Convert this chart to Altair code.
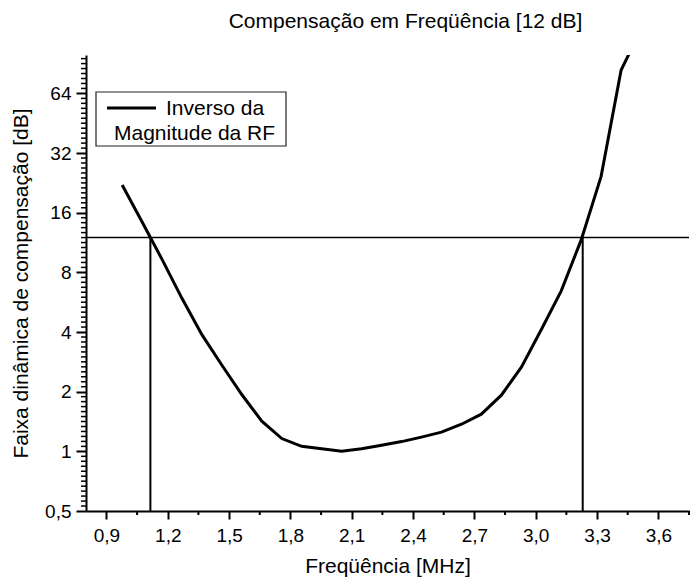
import altair as alt
import numpy as np
import pandas as pd

# Inverse of the RF magnitude response, sampled on FFT bins (MHz)
freq_mhz = [0.977, 1.074, 1.172, 1.270, 1.367, 1.465, 1.563, 1.660, 1.758,
            1.855, 1.953, 2.051, 2.148, 2.246, 2.344, 2.441, 2.539, 2.637,
            2.734, 2.832, 2.930, 3.027, 3.125, 3.223, 3.320, 3.418, 3.516]
compensation = [22.1, 14.4, 9.3, 5.9, 3.88, 2.72, 1.93, 1.42, 1.16,
                1.06, 1.03, 1.00, 1.03, 1.073, 1.12, 1.18, 1.25, 1.37,
                1.54, 1.92, 2.66, 4.11, 6.45, 11.7, 24.4, 84.0, 135.0]

# 12 dB compensation limit and the band edges where the curve meets it
threshold = 12
band_edges = [1.115, 3.23]

x_ticks = [0.9, 1.2, 1.5, 1.8, 2.1, 2.4, 2.7, 3.0, 3.3, 3.6]
x_minor = [1.05, 1.35, 1.65, 1.95, 2.25, 2.55, 2.85, 3.15, 3.45, 3.75]
y_ticks = [0.5, 1, 2, 4, 8, 16, 32, 64]

W, H = 603, 456
FONT = "Liberation Sans"

xs = alt.Scale(domain=[0.8, 3.75], nice=False, zero=False)
ys = alt.Scale(type="log", base=2, domain=[0.5, 100], nice=False)

x_axis = alt.Axis(
    title="Freqüência [MHz]", values=x_ticks,
    labelExpr="replace(format(datum.value, '.1f'), '.', ',')",
    tickSize=8, tickWidth=2, domainWidth=2, labelPadding=7,
    titlePadding=10, grid=False)
y_axis = alt.Axis(
    title="Faixa dinâmica de compensação [dB]", values=y_ticks,
    labelExpr="replace(format(datum.value, '~g'), '.', ',')",
    tickSize=10, tickWidth=2, domainWidth=2, labelPadding=5,
    titlePadding=13, grid=False)

# minor ticks of the log2 axis: evenly spaced subdivisions of each octave
y_minor = [v for o in range(-1, 7) for v in (2.0 ** (o + np.arange(1, 12) / 12.0)) if v <= 100]

curve_df = pd.DataFrame({"f": freq_mhz, "g": compensation})

curve = alt.Chart(curve_df).mark_line(color="black", strokeWidth=3, clip=True).encode(
    x=alt.X("f:Q", scale=xs, axis=x_axis),
    y=alt.Y("g:Q", scale=ys, axis=y_axis),
)

hline = alt.Chart(pd.DataFrame({"g": [threshold]})).mark_rule(
    color="black", strokeWidth=1.3).encode(
    y=alt.Y("g:Q", scale=ys, axis=y_axis))

vlines = alt.Chart(pd.DataFrame({"f": band_edges, "lo": [0.5, 0.5],
                                 "hi": [threshold, threshold]})).mark_rule(
    color="black", strokeWidth=2).encode(
    x=alt.X("f:Q", scale=xs, axis=x_axis),
    y=alt.Y("lo:Q", scale=ys, axis=y_axis),
    y2="hi:Q")

ytick_minor = alt.Chart(pd.DataFrame({"g": y_minor})).mark_rule(
    color="black", strokeWidth=1.5, clip=False).encode(
    y=alt.Y("g:Q", scale=ys, axis=y_axis),
    x=alt.value(-5), x2=alt.value(0))

xtick_minor = alt.Chart(pd.DataFrame({"f": x_minor})).mark_rule(
    color="black", strokeWidth=2, clip=False).encode(
    x=alt.X("f:Q", scale=xs, axis=x_axis),
    y=alt.value(H), y2=alt.value(H + 4))

# legend box
one = pd.DataFrame({"a": [0]})
legend_box = alt.Chart(one).mark_rect(fill="white", stroke="#222", strokeWidth=1.2).encode(
    x=alt.value(10), x2=alt.value(200), y=alt.value(37), y2=alt.value(91))
legend_line = alt.Chart(one).mark_rule(color="black", strokeWidth=3).encode(
    x=alt.value(21), x2=alt.value(70), y=alt.value(53))
legend_t1 = alt.Chart(one).mark_text(text="Inverso da", align="left", baseline="alphabetic",
                                     font=FONT, fontSize=21, color="black").encode(
    x=alt.value(80), y=alt.value(60))
legend_t2 = alt.Chart(one).mark_text(text="Magnitude da RF", align="left", baseline="alphabetic",
                                     font=FONT, fontSize=21, color="black").encode(
    x=alt.value(28), y=alt.value(85))

chart = alt.layer(
    curve, hline, vlines, ytick_minor, xtick_minor,
    legend_box, legend_line, legend_t1, legend_t2,
).properties(
    width=W, height=H,
    autosize="none",
    padding={"left": 86, "top": 55, "right": 1, "bottom": 72},
    title=alt.TitleParams("Compensação em Freqüência [12 dB]", font=FONT, fontSize=21,
                          fontWeight="normal", color="black", anchor="middle",
                          frame="group", baseline="alphabetic", offset=6, dx=18),
).configure_view(stroke=None).configure_axis(
    labelFont=FONT, titleFont=FONT, labelFontSize=19, titleFontSize=21,
    titleFontWeight="normal", labelColor="black", titleColor="black",
    domainColor="black", tickColor="black",
)

chart.save("out.html", embed_options={"renderer": "svg", "actions": False})
